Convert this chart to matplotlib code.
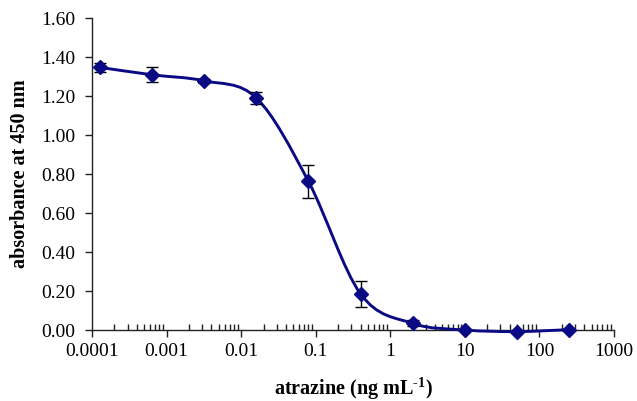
import matplotlib
matplotlib.use("Agg")
import matplotlib.pyplot as plt
import numpy as np
from matplotlib.path import Path
from matplotlib.patches import PathPatch
from matplotlib.ticker import FixedLocator, LogLocator, FuncFormatter, NullFormatter

plt.rcParams["font.family"] = "Liberation Serif"
plt.rcParams["mathtext.fontset"] = "custom"
plt.rcParams["mathtext.rm"] = "Liberation Serif:bold"
plt.rcParams["mathtext.bf"] = "Liberation Serif:bold"

# atrazine standard curve (5-fold dilutions)
conc = [0.000128, 0.00064, 0.0032, 0.016, 0.08, 0.4, 2.0, 10.0, 50.0, 250.0]
absorbance = [1.347, 1.309, 1.278, 1.190, 0.762, 0.185, 0.034, 0.0, -0.008, 0.002]
sd = [0.024, 0.039, 0.010, 0.030, 0.086, 0.067, 0.015, 0.004, 0.004, 0.004]

x_ticks = [0.0001, 0.001, 0.01, 0.1, 1, 10, 100, 1000]
y_ticks = [0.0, 0.2, 0.4, 0.6, 0.8, 1.0, 1.2, 1.4, 1.6]

NAVY = "#0a0a84"
AXIS = "#222222"


def smooth_path(xs, ys):
    # Excel-like smoothed line: Catmull-Rom bezier through the points (in log-x space)
    lx = np.log10(xs)
    ys = np.asarray(ys, dtype=float)
    pts = np.column_stack([lx, ys])
    n = len(pts)
    verts = [pts[0]]
    codes = [Path.MOVETO]
    for i in range(n - 1):
        p0 = pts[i - 1] if i > 0 else pts[i]
        p1 = pts[i]
        p2 = pts[i + 1]
        p3 = pts[i + 2] if i + 2 < n else pts[i + 1]
        c1 = p1 + (p2 - p0) / 6.0
        c2 = p2 - (p3 - p1) / 6.0
        verts += [c1, c2, p2]
        codes += [Path.CURVE4] * 3
    verts = np.array(verts)
    verts[:, 0] = 10 ** verts[:, 0]
    return Path(verts, codes)


fig = plt.figure(figsize=(6.37, 4.01), dpi=100)
ax = fig.add_axes([0.1444, 0.177, 0.8195, 0.778])

ax.set_xscale("log")
ax.set_xlim(1e-4, 1e3)
ax.set_ylim(0, 1.6)

patch = PathPatch(smooth_path(conc, absorbance), facecolor="none",
                  edgecolor=NAVY, lw=2.1, zorder=3, clip_on=False)
ax.add_patch(patch)

eb = ax.errorbar(conc, absorbance, yerr=sd, fmt="none", ecolor="black",
                 elinewidth=1.0, capsize=4, capthick=1.0, zorder=4)
ax.plot(conc, absorbance, ls="none", marker="D", ms=7, color=NAVY,
        zorder=5, clip_on=False)

for side in ("top", "right"):
    ax.spines[side].set_visible(False)
for side in ("left", "bottom"):
    ax.spines[side].set_linewidth(1.0)
    ax.spines[side].set_color(AXIS)

ax.yaxis.set_major_locator(FixedLocator(y_ticks))
ax.yaxis.set_major_formatter(FuncFormatter(lambda v, p: f"{v:.2f}"))
ax.xaxis.set_major_locator(FixedLocator(x_ticks))
ax.xaxis.set_major_formatter(FuncFormatter(lambda v, p: f"{v:g}"))
ax.xaxis.set_minor_locator(LogLocator(base=10, subs=np.arange(2, 10)))
ax.xaxis.set_minor_formatter(NullFormatter())

ax.tick_params(axis="y", which="major", direction="out", length=5, width=1,
               labelsize=14, pad=7, color=AXIS)
ax.tick_params(axis="x", which="major", direction="out", length=5, width=1,
               labelsize=14, pad=4, color=AXIS)
ax.tick_params(axis="x", which="minor", direction="in", length=4, width=1,
               color=AXIS)

ax.set_xlabel("atrazine (ng mL$^{\\text{-1}}$)", fontsize=14.5, fontweight="bold",
              labelpad=11)
ax.set_ylabel("absorbance at 450 nm", fontsize=14.5, fontweight="bold",
              labelpad=8)

fig.savefig("out.png", dpi=100)
